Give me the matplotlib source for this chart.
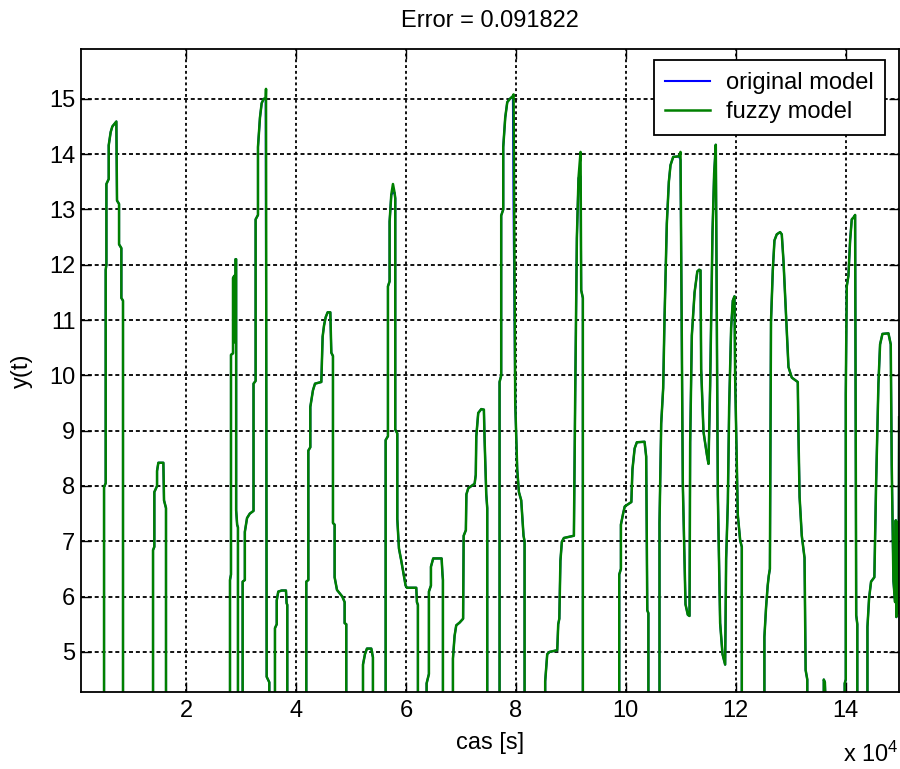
import matplotlib
matplotlib.use("Agg")
import matplotlib.pyplot as plt
import numpy as np

plt.rcParams['font.family'] = ['Liberation Sans', 'DejaVu Sans']
plt.rcParams['mathtext.default'] = 'regular'
plt.rcParams['font.size'] = 17

# time in units of 1e4 s; 3.0 marks the stretches that run below the visible range
t = [0.09,
     0.509, 0.509, 0.539, 0.539, 0.552, 0.552, 0.594, 0.594, 0.63, 0.66, 0.733, 0.745, 0.782, 0.782, 0.824, 0.824, 0.854, 0.854,
     1.4, 1.4, 1.424, 1.424, 1.473, 1.473, 1.497, 1.588, 1.6, 1.636, 1.636,
     2.8, 2.8, 2.818, 2.818, 2.855, 2.855, 2.878, 2.878, 2.9, 2.9, 2.912, 2.912, 2.93, 2.945, 2.945,
     3.03, 3.03, 3.07, 3.07, 3.11, 3.16, 3.228, 3.228, 3.266, 3.266, 3.309, 3.309, 3.345, 3.376, 3.412, 3.45, 3.455, 3.467, 3.515, 3.515,
     3.618, 3.618, 3.65, 3.65, 3.678, 3.74, 3.818, 3.83, 3.842, 3.842,
     4.188, 4.188, 4.225, 4.225, 4.261, 4.261, 4.309, 4.346, 4.461, 4.485, 4.51, 4.54, 4.576, 4.625, 4.643, 4.673, 4.673, 4.703, 4.703, 4.746, 4.843, 4.885, 4.885, 4.915, 4.915,
     5.219, 5.219, 5.255, 5.291, 5.37, 5.4, 5.4,
     5.631, 5.631, 5.673, 5.673, 5.703, 5.703, 5.734, 5.764, 5.794, 5.806, 5.806, 5.843, 5.843, 5.873, 5.915, 5.994, 6.018, 6.188, 6.2, 6.218, 6.218,
     6.376, 6.376, 6.418, 6.418, 6.455, 6.455, 6.496, 6.649, 6.665, 6.673, 6.673,
     6.855, 6.855, 6.885, 6.915, 6.976, 7.04, 7.05, 7.09, 7.1, 7.134, 7.249, 7.27, 7.28, 7.315, 7.37, 7.418, 7.431, 7.461, 7.479, 7.479,
     7.703, 7.703, 7.733, 7.733, 7.77, 7.77, 7.806, 7.843, 7.891, 7.946, 7.958, 7.988, 8.024, 8.055, 8.097, 8.139, 8.158, 8.158,
     8.533, 8.533, 8.57, 8.612, 8.752, 8.77, 8.79, 8.81, 8.836, 8.873, 9.055, 9.079, 9.109, 9.139, 9.176, 9.188, 9.218, 9.218,
     9.88, 9.88, 9.91, 9.91, 9.95, 9.98, 10.1, 10.12, 10.16, 10.2, 10.34, 10.37, 10.39, 10.41, 10.41,
     10.612, 10.612, 10.643, 10.679, 10.703, 10.745, 10.782, 10.812, 10.861, 10.964, 10.994, 11.036, 11.085, 11.127, 11.158,
     11.17, 11.2, 11.25, 11.3, 11.333, 11.358, 11.37, 11.412, 11.473, 11.503, 11.533, 11.576, 11.606, 11.636, 11.673,
     11.715, 11.758, 11.806, 11.824, 11.855, 11.879, 11.915, 11.945, 11.976, 11.988, 12.036, 12.079, 12.109, 12.109,
     12.52, 12.52, 12.55, 12.58, 12.6, 12.62, 12.64, 12.673, 12.703, 12.745, 12.806, 12.836, 12.867, 12.927, 12.958, 13.018, 13.127, 13.14, 13.16, 13.2, 13.25, 13.27, 13.3, 13.3,
     13.6, 13.6, 13.62, 13.625, 13.625,
     13.98, 13.98, 14.0, 14.0, 14.018, 14.048, 14.079, 14.109, 14.145, 14.17, 14.19, 14.21, 14.21,
     14.394, 14.394, 14.424, 14.46, 14.52, 14.55, 14.594, 14.624, 14.667, 14.776, 14.818, 14.836, 14.867, 14.897, 14.91, 14.92, 14.93, 14.94, 14.95, 14.96, 14.97]

y_fuzzy = [3.0,
           3.0, 7.98, 8.05, 11.91, 12.0, 13.46, 13.55, 14.16, 14.4, 14.5, 14.59, 13.16, 13.1, 12.37, 12.3, 11.4, 11.35, 3.0,
           3.0, 6.84, 6.9, 7.89, 8.0, 8.27, 8.42, 8.42, 7.74, 7.6, 3.0,
           3.0, 6.3, 6.4, 10.37, 10.4, 11.76, 11.8, 10.6, 10.6, 12.1, 12.1, 7.56, 7.3, 7.25, 3.0,
           3.0, 6.27, 6.3, 7.17, 7.42, 7.5, 7.55, 9.85, 9.9, 12.82, 12.9, 14.13, 14.66, 14.92, 15.0, 15.0, 15.18, 4.55, 4.45, 3.0,
           3.0, 5.43, 5.5, 5.93, 6.09, 6.11, 6.11, 5.88, 5.85, 3.0,
           3.0, 6.27, 6.3, 8.64, 8.7, 9.43, 9.73, 9.85, 9.88, 10.7, 10.9, 11.05, 11.14, 11.14, 10.41, 10.35, 7.33, 7.3, 6.35, 6.12, 6.0, 5.9, 5.52, 5.5, 3.0,
           3.0, 4.77, 4.96, 5.06, 5.06, 4.9, 3.0,
           3.0, 8.83, 8.9, 11.61, 11.7, 12.78, 13.27, 13.46, 13.3, 13.2, 9.02, 8.95, 7.4, 6.87, 6.65, 6.2, 6.16, 6.16, 5.9, 5.85, 3.0,
           3.0, 4.43, 4.6, 6.09, 6.2, 6.54, 6.69, 6.69, 6.4, 6.3, 3.0,
           3.0, 4.88, 5.29, 5.48, 5.53, 5.6, 7.1, 7.2, 7.85, 7.96, 8.04, 8.2, 8.9, 9.32, 9.39, 9.38, 8.83, 7.85, 7.6, 3.0,
           3.0, 9.88, 10.0, 12.89, 13.0, 14.13, 14.66, 14.94, 15.0, 15.05, 15.08, 9.51, 8.3, 7.89, 7.74, 7.1, 7.0, 3.0,
           3.0, 4.47, 4.96, 5.0, 5.03, 5.5, 5.6, 6.65, 6.99, 7.06, 7.1, 9.66, 12.48, 13.57, 14.04, 11.54, 11.4, 3.0,
           3.0, 6.4, 6.5, 7.3, 7.5, 7.63, 7.71, 8.3, 8.68, 8.79, 8.8, 8.53, 5.75, 5.7, 3.0,
           3.0, 7.33, 9.13, 9.77, 11.01, 12.74, 13.5, 13.8, 13.95, 13.96, 14.04, 8.04, 5.86, 5.67, 5.65,
           8.79, 10.72, 11.5, 11.88, 11.91, 11.9, 10.11, 8.98, 8.57, 8.4, 9.81, 12.59, 13.65, 14.17, 7.85,
           5.52, 4.96, 4.77, 6.68, 7.7, 9.43, 10.86, 11.35, 11.43, 9.96, 7.48, 7.02, 6.9, 3.0,
           3.0, 5.27, 5.8, 6.2, 6.38, 6.5, 10.97, 11.91, 12.44, 12.55, 12.59, 12.55, 12.07, 10.79, 10.15, 9.96, 9.88, 8.9, 7.8, 7.1, 6.7, 4.67, 4.5, 3.0,
           3.0, 4.5, 4.45, 4.3, 3.0,
           3.0, 4.43, 4.5, 9.66, 11.61, 11.8, 12.44, 12.82, 12.86, 12.9, 5.66, 5.5, 3.0,
           3.0, 5.45, 5.97, 6.27, 6.35, 7.96, 9.85, 10.56, 10.75, 10.76, 10.56, 8.38, 6.28, 5.9, 7.38, 5.63, 7.3, 5.7, 7.35, 5.7, 9.24]

# where the original model differs from the fuzzy one (green overshoots)
orig_t = [3.455, 5.764, 7.958, 9.176, 10.994]
orig_y = [12.09, 13.3, 13.0, 13.6, 13.9]

title_text = 'Error = 0.091822'
x_ticks = [2, 4, 6, 8, 10, 12, 14]
y_ticks = [5, 6, 7, 8, 9, 10, 11, 12, 13, 14, 15]

t = np.array(t)
y_fuzzy = np.array(y_fuzzy)
y_orig = y_fuzzy.copy()
for tv, yv in zip(orig_t, orig_y):
    y_orig[np.isclose(t, tv)] = yv

fig = plt.figure(figsize=(9, 7.69), dpi=100)
ax = fig.add_axes([0.09, 0.1005, 0.909, 0.8357])

ax.plot(t, y_orig, color='#0000ff', lw=1.5, label='original model')
ax.plot(t, y_fuzzy, color='#008000', lw=1.8, label='fuzzy model')

ax.set_xlim(0.09, 14.97)
ax.set_ylim(4.28, 15.9)
ax.set_xticks(x_ticks)
ax.set_yticks(y_ticks)
ax.tick_params(direction='in', length=7, width=1, top=True, right=True)
ax.tick_params(axis='x', pad=6)
ax.tick_params(axis='y', pad=4)
for s in ax.spines.values():
    s.set_linewidth(1.3)

ax.set_axisbelow(True)
ax.xaxis.grid(True, color='k', linestyle=(0, (1.6, 1.6)), linewidth=1.3)
ax.yaxis.grid(True, color='k', linestyle=(0, (2.2, 1.6)), linewidth=1.3)

ax.set_title(title_text, pad=16, fontsize=17)
ax.set_xlabel('cas [s]', labelpad=7)
ax.set_ylabel('y(t)', labelpad=12)
fig.text(0.999, 0.009, r'x 10$^{4}$', ha='right', va='baseline', fontsize=17)

leg = ax.legend(loc='upper right', bbox_to_anchor=(0.983, 0.983), borderaxespad=0,
                fancybox=False, edgecolor='black', framealpha=1,
                handlelength=1.9, handletextpad=0.65, labelspacing=0.3,
                borderpad=0.5, fontsize=17)
leg.get_frame().set_linewidth(1.3)

fig.savefig('out.png', dpi=100)
